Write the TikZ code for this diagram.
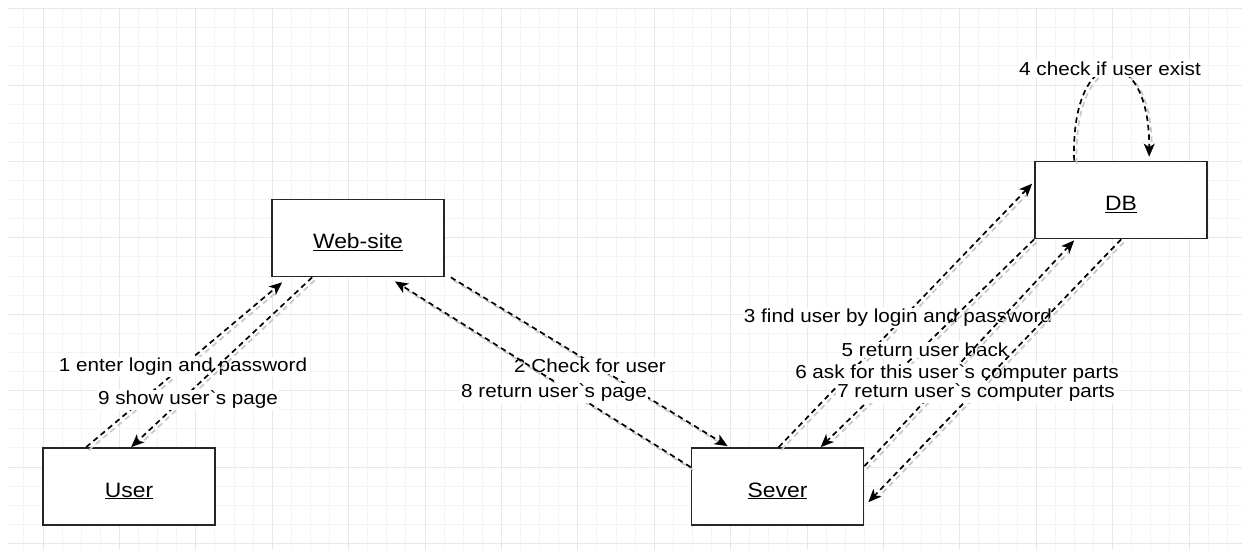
\documentclass[tikz,border=0pt]{standalone}
\usepackage{fontspec}
\setmainfont{Liberation Sans}[FakeStretch=1.1]
\usetikzlibrary{arrows.meta}

\definecolor{minorgrid}{HTML}{F4F4F4}
\definecolor{majorgrid}{HTML}{E8E8E8}
\definecolor{shade}{HTML}{C8C8C8}

\tikzset{
  box/.style={draw=black!85, line width=1.7pt, fill=white,
    minimum width=172pt, minimum height=77pt, inner sep=0pt,
    font=\fontsize{20.8}{24}\selectfont},
  flow/.style={draw=black, line width=1.7pt, dash pattern=on 5.5pt off 4pt,
    -{Stealth[length=13pt,width=11pt,inset=3.5pt]}},
  flowshade/.style={draw=shade, line width=1.7pt, dash pattern=on 5.5pt off 4pt,
    shorten >=12pt, transform canvas={shift={(2.5pt,-3pt)}}},
  lbl/.style={fill=white, inner sep=1pt, text=black,
    font=\fontsize{18.8}{22}\selectfont}
}
% a dashed connector together with its soft drop shadow
\newcommand\flowedge[2]{%
  \draw[flowshade] #1 -- #2;
  \draw[flow] #1 -- #2;}
% box caption: baseline a little below the box centre
\newcommand\boxtext[1]{\raisebox{-10.5pt}[0pt][0pt]{\underline{#1}}}

\begin{document}
\begin{tikzpicture}[x=1pt,y=-1pt]
\useasboundingbox (0,0) rectangle (1248,550);
\fill[white] (0,0) rectangle (1248,550);

% background grid
\begin{scope}
  \clip (8,8) rectangle (1242,550);
  \foreach \k in {0,...,65} {
    \pgfmathsetmacro\gx{4.8+19.1*\k}
    \draw[minorgrid, line width=1pt] (\gx,8) -- (\gx,550);
  }
  \foreach \k in {0,...,29} {
    \pgfmathsetmacro\gy{8.6+19.1*\k}
    \draw[minorgrid, line width=1pt] (8,\gy) -- (1242,\gy);
  }
  \foreach \k in {0,...,16} {
    \pgfmathsetmacro\gx{43+76.4*\k}
    \draw[majorgrid, line width=1pt] (\gx,8) -- (\gx,550);
  }
  \foreach \k in {0,...,7} {
    \pgfmathsetmacro\gy{8.6+76.4*\k}
    \draw[majorgrid, line width=1pt] (8,\gy) -- (1242,\gy);
  }
\end{scope}

% actors
\node[box] (user)  at (129,486.5)   {\boxtext{User}};
\node[box] (web)   at (358,238)     {\boxtext{Web-site}};
\node[box] (sever) at (777.5,486.5) {\boxtext{Sever}};
\node[box] (db)    at (1121,200)    {\boxtext{DB}};

% 1
\flowedge{([xshift=44pt]user.north west)}{([xshift=11pt,yshift=-5pt]web.south west)}
\node[lbl] (m1) at (183,367) {1 enter login and password};
% 2
\flowedge{([xshift=6pt]web.south east)}{([xshift=37pt,yshift=1pt]sever.north west)}
\node[lbl] (m2) at (590,366) {2 Check for user};
% 3
\flowedge{([xshift=88pt]sever.north west)}{([xshift=-2pt,yshift=-23pt]db.north west)}
\node[lbl] (m3) at (898,318) {3 find user by login and password};
% 4
\draw[flowshade] ([xshift=40pt]db.north west) .. controls (1070,40) and (1150,40) .. ([xshift=115pt,yshift=4pt]db.north west);
\draw[flow] ([xshift=40pt]db.north west) .. controls (1070,40) and (1150,40) .. ([xshift=115pt,yshift=4pt]db.north west);
\node[lbl] (m4) at (1110,69) {4 check if user exist};
% 5
\flowedge{(db.south west)}{([xshift=130pt]sever.north west)}
\node[lbl] (m5) at (925,350) {5 return user back};
% 6
\flowedge{([yshift=-19pt]sever.north east)}{([xshift=40pt,yshift=-1pt]db.south west)}
\node[lbl] (m6) at (957,374) {6 ask for this user\textasciigrave{}s computer parts};
% 7
\flowedge{([xshift=87pt]db.south west)}{([xshift=4pt,yshift=-55pt]sever.north east)}
\node[lbl] (m7) at (976,393) {7 return user\textasciigrave{}s computer parts};
% 8
\flowedge{([yshift=-20pt]sever.north west)}{([xshift=37pt,yshift=-4pt]web.south)}
\node[lbl] (m8) at (554,393) {8 return user\textasciigrave{}s page};
% 9
\flowedge{([xshift=41pt]web.south west)}{([xshift=89pt]user.north west)}
\node[lbl] (m9) at (188,400) {9 show user\textasciigrave{}s page};
\end{tikzpicture}
\end{document}
